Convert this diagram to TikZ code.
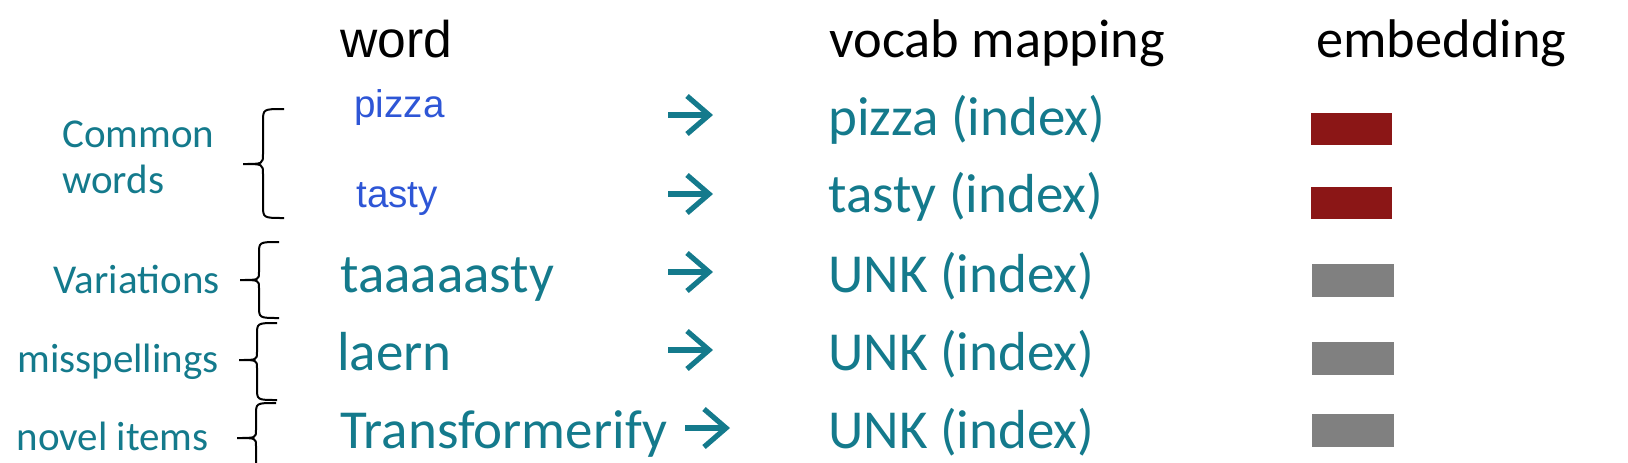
\documentclass[tikz,border=0pt]{standalone}
\usepackage{fontspec}
\setmainfont{Carlito}
\newfontfamily\arialfont{Liberation Sans}
\usetikzlibrary{arrows.meta}
\definecolor{wordteal}{HTML}{147A8C}
\definecolor{wordblue}{HTML}{2E56D6}
\definecolor{embred}{HTML}{8B1616}
\definecolor{embgray}{HTML}{808080}

\begin{document}
\begin{tikzpicture}[x=0.5pt,y=-0.5pt,
  head/.style={anchor=base west,inner sep=0pt,font=\fontsize{27.2}{32}\selectfont},
  entry/.style={anchor=base west,inner sep=0pt,text=wordteal,font=\fontsize{27.5}{32}\selectfont},
  common/.style={anchor=base west,inner sep=0pt,text=wordblue,font=\arialfont\fontsize{19.3}{23}\selectfont},
  group/.style={anchor=base east,inner sep=0pt,text=wordteal,font=\fontsize{20.5}{23}\selectfont},
  curly/.style={line width=1pt},
  maparrow/.style={wordteal,line width=2.6pt,-{Straight Barb[length=11pt,width=19pt]}},
  vec/.style={inner sep=0pt,minimum width=41pt,minimum height=16.5pt}]
  \useasboundingbox (0,0) rectangle (1628,462);

  % headers
  \node[head,font=\arialfont\fontsize{25.8}{30}\selectfont] (hdword) at (340,57) {word};
  \node[head] (hdvocab) at (829,57) {vocab mapping};
  \node[head] (hdemb)   at (1316,57) {embedding};

  % words
  \node[common] (wpizza) at (354,117) {pizza};
  \node[common] (wtasty) at (356,207) {tasty};
  \node[entry]  (wtaaa)  at (340,292) {taaaaasty};
  \node[entry]  (wlaern) at (337,370) {laern};
  \node[entry]  (wtrans) at (340,448) {Transformerify};

  % vocab mapping
  \node[entry] (mpizza) at (828,135) {pizza (index)};
  \node[entry] (mtasty) at (828,212) {tasty (index)};
  \node[entry] (munka)  at (828,292) {UNK (index)};
  \node[entry] (munkb)  at (828,370) {UNK (index)};
  \node[entry] (munkc)  at (828,448) {UNK (index)};

  % embeddings
  \node[vec,fill=embred,minimum width=40.5pt,minimum height=16pt] (epizza) at (1351.5,129) {};
  \node[vec,fill=embred,minimum width=40.5pt,minimum height=16pt] (etasty) at (1351.5,203) {};
  \node[vec,fill=embgray] (eunka) at (1352.5,280) {};
  \node[vec,fill=embgray] (eunkb) at (1352.5,358.5) {};
  \node[vec,fill=embgray] (eunkc) at (1352.5,430.5) {};

  % groups
  \node[group,anchor=base west,align=left] (lcommon) at (62,193) {Common\\words};
  \node[group] (lvar)   at (220,293) {Variations};
  \node[group] (lmis)   at (219,372) {misspellings};
  \node[group] (lnovel) at (209,450) {novel items};

  % braces
  \draw[curly] (284,109) .. controls (263,109) .. (263,122) -- (263,154)
    .. controls (263,164) .. (243,164) .. controls (263,164) .. (263,174)
    -- (263,205) .. controls (263,218) .. (284,218);
  \draw[curly] (279,242) .. controls (259,242) .. (259,254) -- (259,272)
    .. controls (259,280) .. (240,280) .. controls (259,280) .. (259,288)
    -- (259,306) .. controls (259,318) .. (279,318);
  \draw[curly] (277,323) .. controls (257,323) .. (257,335) -- (257,352)
    .. controls (257,360) .. (239,360) .. controls (257,360) .. (257,368)
    -- (257,388) .. controls (257,400) .. (277,400);
  \draw[curly] (276,403) .. controls (256,403) .. (256,415) -- (256,430)
    .. controls (256,438) .. (237,438) .. controls (256,438) .. (256,446)
    -- (256,461) .. controls (256,473) .. (276,473);

  % arrows
  \coordinate (apizza) at (668,115); \coordinate (bpizza) at (713,115);
  \coordinate (atasty) at (668,194); \coordinate (btasty) at (713,194);
  \coordinate (ataaa)  at (668,272); \coordinate (btaaa)  at (713,272);
  \coordinate (alaern) at (668,350); \coordinate (blaern) at (713,350);
  \coordinate (atrans) at (685,428); \coordinate (btrans) at (730,428);
  \path[maparrow]
    (apizza) edge (bpizza)
    (atasty) edge (btasty)
    (ataaa)  edge (btaaa)
    (alaern) edge (blaern)
    (atrans) edge (btrans)
  ;
\end{tikzpicture}
\end{document}
